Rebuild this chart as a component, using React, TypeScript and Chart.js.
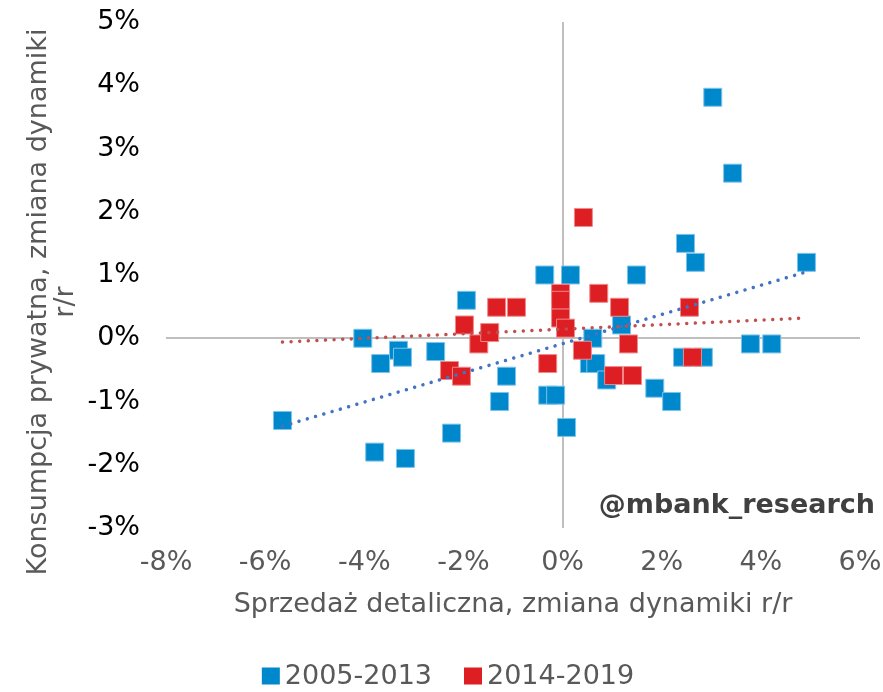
import React, { useEffect, useRef } from 'react';
import { Chart, registerables } from 'chart.js';

Chart.register(...registerables);

const FONT = "'DejaVu Sans', Verdana, sans-serif";

// ---- data (percent units) ----
const seriesNames = ['2005-2013', '2014-2019'];

const blueX = [-5.65, -4.03, -3.79, -3.67, -3.31, -3.23, -3.17, -2.56, -2.24, -1.94, -1.27, -1.13, -0.36, -0.3, -0.14, 0.08, 0.16, 0.54, 0.61, 0.67, 0.89, 1.19, 1.49, 1.86, 2.2, 2.42, 2.48, 2.68, 2.84, 3.03, 3.43, 3.79, 4.22, 4.92];
const blueY = [-1.3, 0.0, -1.8, -0.4, -0.19, -0.3, -1.9, -0.21, -1.5, 0.6, -1.0, -0.6, 1.0, -0.9, -0.9, -1.41, 1.0, -0.4, 0.0, -0.4, -0.66, 0.21, 1.0, -0.79, -1.0, -0.3, 1.5, 1.2, -0.3, 3.81, 2.61, -0.09, -0.09, 1.2];

const redX = [-2.28, -2.04, -1.98, -1.69, -1.47, -1.33, -0.93, -0.3, -0.04, -0.04, -0.04, 0.06, 0.4, 0.42, 0.73, 1.03, 1.15, 1.33, 1.41, 2.56, 2.62];
const redY = [-0.51, -0.6, 0.21, -0.09, 0.09, 0.49, 0.49, -0.4, 0.71, 0.6, 0.32, 0.16, -0.19, 1.91, 0.71, -0.59, 0.49, -0.09, -0.59, 0.49, -0.3];

// trend line end points
const trendX = [-5.65, 4.92];
const blueTrendY = [-1.39, 1.05];
const redTrendY = [-0.06, 0.32];

const xTickValues = [-8, -6, -4, -2, 0, 2, 4, 6];
const yTickValues = [-3, -2, -1, 0, 1, 2, 3, 4, 5];

const xTitle = 'Sprzedaż detaliczna, zmiana dynamiki r/r';
const yTitleLines = ['Konsumpcja prywatna, zmiana dynamiki', 'r/r'];
const watermark = '@mbank_research';

const BLUE = '#0088CC';
const RED = '#DD1E22';
const BLUE_TREND = '#4472C4';
const RED_TREND = '#C0504D';
const GREY_TEXT = '#595959';

const toPts = (xs: number[], ys: number[]) => xs.map((x, i) => ({ x, y: ys[i] }));

const overlayPlugin = {
  id: 'overlay',
  afterDraw(chart: any) {
    const ctx = chart.ctx as CanvasRenderingContext2D;
    ctx.save();
    // y axis title (two rotated lines)
    ctx.fillStyle = GREY_TEXT;
    ctx.font = `27px ${FONT}`;
    ctx.textAlign = 'center';
    ctx.textBaseline = 'alphabetic';
    const baseX = [46, 73];
    yTitleLines.forEach((line, i) => {
      ctx.save();
      ctx.translate(baseX[i], 302);
      ctx.rotate(-Math.PI / 2);
      ctx.fillText(line, 0, 0);
      ctx.restore();
    });

    // watermark
    ctx.font = `bold 27px ${FONT}`;
    ctx.fillStyle = '#404040';
    ctx.textAlign = 'right';
    ctx.fillText(watermark, 875, 513);

    // legend
    ctx.font = `27px ${FONT}`;
    ctx.textAlign = 'left';
    ctx.textBaseline = 'middle';
    const boxW = 18, boxH = 17, gapBox = 5, gapItem = 32;
    const colors = [BLUE, RED];
    const widths = seriesNames.map((n) => boxW + gapBox + ctx.measureText(n).width);
    const total = widths.reduce((a, b) => a + b, 0) + gapItem * (widths.length - 1);
    let x = 448 - total / 2;
    const cy = 676;
    seriesNames.forEach((n, i) => {
      ctx.fillStyle = colors[i];
      ctx.fillRect(x, cy - boxH / 2, boxW, boxH);
      ctx.fillStyle = GREY_TEXT;
      ctx.fillText(n, x + boxW + gapBox, cy + 1);
      x += widths[i] + gapItem;
    });
    ctx.restore();
  },
};

const clearPadding = (s: any) => {
  s.paddingTop = 0;
  s.paddingBottom = 0;
  s.paddingLeft = 0;
  s.paddingRight = 0;
};

export default function App() {
  const canvasRef = useRef<HTMLCanvasElement | null>(null);

  useEffect(() => {
    if (!canvasRef.current) return;
    Chart.defaults.font.family = FONT;
    const zeroGrid = (c: any) => (c.tick && c.tick.value === 0 ? '#BFBFBF' : 'rgba(0,0,0,0)');
    const chart = new Chart(canvasRef.current, {
      type: 'scatter',
      data: {
        datasets: [
          {
            label: 'trend ' + seriesNames[0],
            data: toPts(trendX, blueTrendY),
            showLine: true,
            borderColor: BLUE_TREND,
            borderWidth: 3.5,
            borderDash: [0.01, 8.6],
            borderCapStyle: 'round',
            pointRadius: 0,
            order: 0,
          } as any,
          {
            label: 'trend ' + seriesNames[1],
            data: toPts(trendX, redTrendY),
            showLine: true,
            borderColor: RED_TREND,
            borderWidth: 3.5,
            borderDash: [0.01, 8.6],
            borderCapStyle: 'round',
            pointRadius: 0,
            order: 0,
          } as any,
          {
            label: seriesNames[1],
            data: toPts(redX, redY),
            pointStyle: 'rect',
            pointRadius: 12.7,
            backgroundColor: RED,
            borderColor: '#F08A8C',
            borderWidth: 1,
            order: 1,
          },
          {
            label: seriesNames[0],
            data: toPts(blueX, blueY),
            pointStyle: 'rect',
            pointRadius: 12.7,
            backgroundColor: BLUE,
            borderColor: '#7CC3EA',
            borderWidth: 1,
            order: 2,
          },
        ],
      },
      options: {
        animation: false,
        responsive: true,
        maintainAspectRatio: false,
        events: [],
        layout: { padding: { left: 0, right: 23, top: 22, bottom: 0 } },
        plugins: {
          legend: { display: false },
          tooltip: { enabled: false },
        },
        scales: {
          x: {
            type: 'linear',
            min: xTickValues[0],
            max: xTickValues[xTickValues.length - 1],
            afterBuildTicks: (s: any) => {
              s.ticks = xTickValues.map((v) => ({ value: v }));
            },
            ticks: {
              callback: (v: any) => `${v}%`,
              font: { size: 27, family: FONT },
              color: GREY_TEXT,
              padding: 19,
              maxRotation: 0,
              autoSkip: false,
            },
            grid: { drawTicks: false, color: zeroGrid, lineWidth: 2 },
            border: { display: false },
            title: {
              display: true,
              text: xTitle,
              font: { size: 27, family: FONT },
              color: GREY_TEXT,
              padding: { top: 0, bottom: 71 },
            },
            afterFit: (s: any) => {
              s.height = 164;
              clearPadding(s);
            },
          },
          y: {
            type: 'linear',
            min: yTickValues[0],
            max: yTickValues[yTickValues.length - 1],
            afterBuildTicks: (s: any) => {
              s.ticks = yTickValues.map((v) => ({ value: v }));
            },
            ticks: {
              callback: (v: any) => `${v}%`,
              font: { size: 27, family: FONT },
              color: '#000000',
              padding: 26,
              autoSkip: false,
            },
            grid: { drawTicks: false, color: zeroGrid, lineWidth: 2 },
            border: { display: false },
            afterFit: (s: any) => {
              s.width = 166;
              clearPadding(s);
            },
          },
        },
      },
      plugins: [overlayPlugin],
    });
    return () => chart.destroy();
  }, []);

  return (
    <div style={{ position: 'fixed', left: 0, top: 0, width: 883, height: 692, background: '#fff' }}>
      <canvas ref={canvasRef} />
    </div>
  );
}
